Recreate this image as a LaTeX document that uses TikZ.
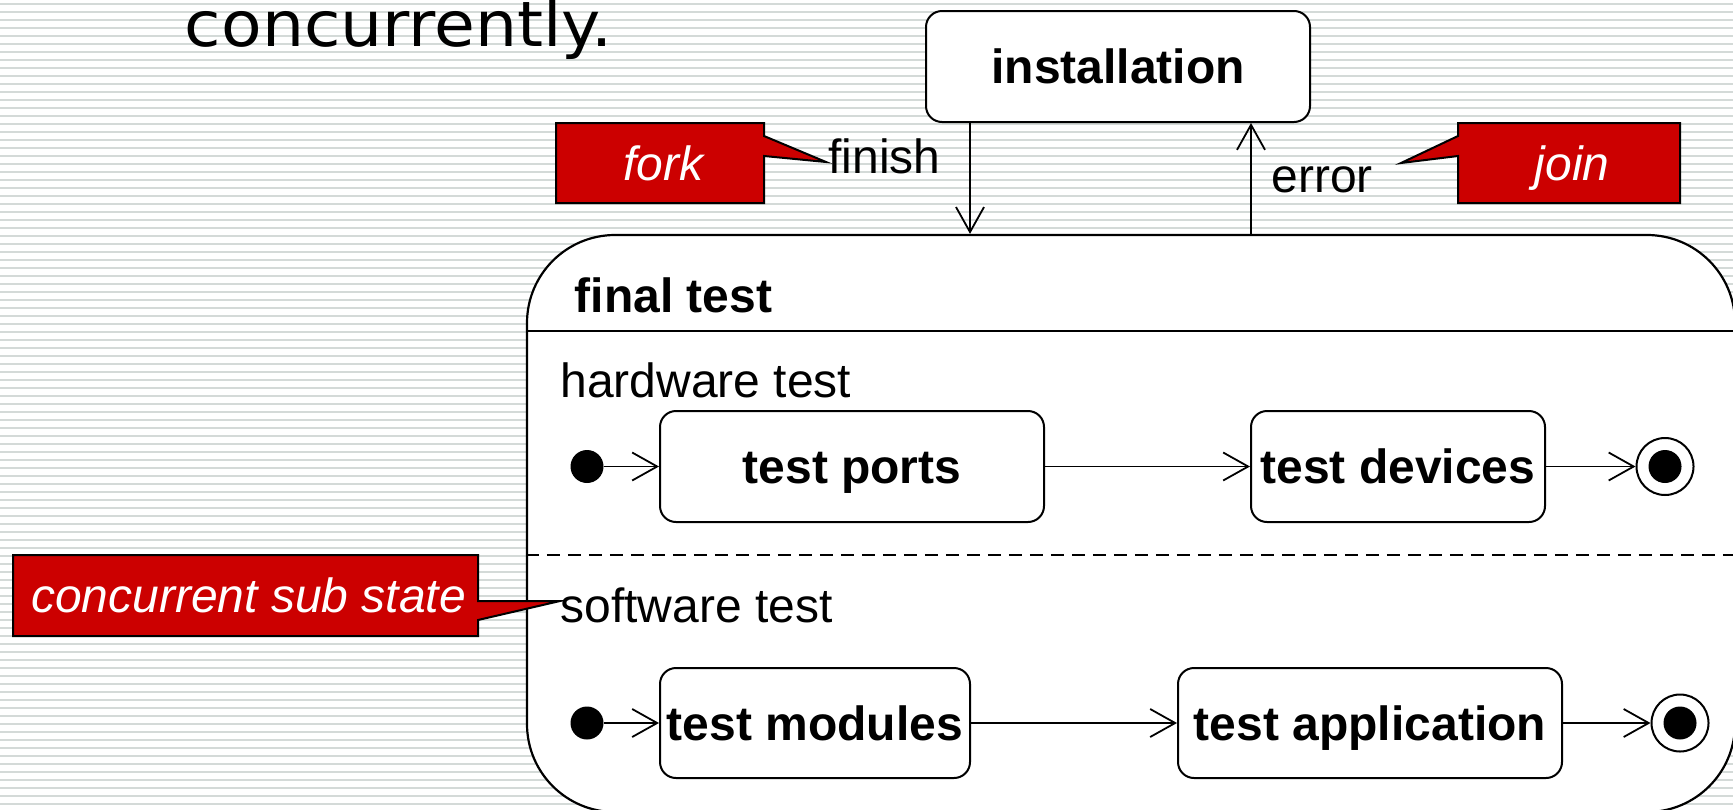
\documentclass[tikz,border=0pt]{standalone}
\usepackage{fontspec}
\setmainfont{Liberation Sans}
\newfontfamily\headfont[FakeStretch=1.06]{DejaVu Sans}
\usetikzlibrary{arrows.meta}
\definecolor{stripegray}{RGB}{212,218,216}
\definecolor{noteRed}{RGB}{204,0,0}
\begin{document}
\begin{tikzpicture}[x=0.5pt,y=-0.5pt,
  lbl/.style={inner sep=0pt,font=\fontsize{24}{28}\selectfont},
  stripe/.style={draw=stripegray,line width=0.8pt},
  statebox/.style={draw,line width=1pt,rounded corners=8pt,fill=white,
    inner sep=0pt,text height=17.3pt,text depth=0pt,
    font=\fontsize{24}{28}\selectfont\bfseries},
  superstate/.style={draw,line width=1.1pt,rounded corners=44pt,fill=white,inner sep=0pt},
  arr/.style={line width=0.9pt,-{Straight Barb[length=12.5pt,width=14pt,line width=0.9pt]}},
  initdot/.style={circle,fill=black,minimum size=16.5pt,inner sep=0pt},
  finring/.style={circle,draw,line width=1pt,fill=white,minimum size=28.5pt,inner sep=0pt},
  callout/.style={fill=noteRed,draw=black,line width=1pt,line join=miter},
  notetext/.style={inner sep=0pt,text=white,text height=17.3pt,text depth=0pt,
    font=\fontsize{24}{28}\selectfont\itshape}]

% page area and striped background
\useasboundingbox (0,0) rectangle (1733,809);
\clip (0,0) rectangle (1733,809);
\fill[white] (0,0) rectangle (1733,809);
\foreach \k in {0,...,100} \draw[stripe] (0,4+8*\k) -- (1733,4+8*\k);

% heading fragment
\node[anchor=base west,inner sep=0pt,font=\headfont\fontsize{31.3}{36}\selectfont] (title) at (184.5,46.7) {concurrently.};

% composite state with two concurrent regions
\node[superstate,minimum width=604pt,minimum height=288.5pt] (final) at (1131,523.5) {};
\coordinate (sepname) at (0,331);
\coordinate (sepregion) at (0,555);
\draw[line width=1pt] (final.west |- sepname) -- (final.east |- sepname);
\draw[line width=0.9pt,dash pattern=on 6.5pt off 4pt] (final.west |- sepregion) -- (final.east |- sepregion);
\node[lbl,anchor=base west,font=\fontsize{24}{28}\selectfont\bfseries] (ftlabel) at (574.5,312) {final test};
\node[lbl,anchor=base west] (hwlabel) at (560,397) {hardware test};
\node[lbl,anchor=base west] (swlabel) at (560,622) {software test};

% outer state
\node[statebox,minimum width=192pt,minimum height=55.5pt] (inst) at (1118,66.5) {installation};

% hardware region
\node[initdot] (hinit) at (587,466.5) {};
\node[statebox,minimum width=192pt,minimum height=55.5pt] (ports) at (852,466.5) {test ports};
\node[statebox,minimum width=147pt,minimum height=55.5pt] (devices) at (1398,466.5) {test devices};
\node[finring] (hfinal) at (1665,466.5) {};
\node[initdot] (hfinaldot) at (hfinal) {};
\draw[arr] (hinit) -- (ports);
\draw[arr] (ports) -- (devices);
\draw[arr] (devices) -- (hfinal);

% software region
\node[initdot] (sinit) at (587,723) {};
\node[statebox,minimum width=155pt,minimum height=55pt] (modules) at (815,723) {test modules};
\node[statebox,minimum width=192pt,minimum height=55pt] (application) at (1370,723) {test application};
\node[finring] (sfinal) at (1680,723) {};
\node[initdot] (sfinaldot) at (sfinal) {};
\draw[arr] (sinit) -- (modules);
\draw[arr] (modules) -- (application);
\draw[arr] (application) -- (sfinal);

% fork and join transitions
\coordinate (finx) at (970,0);
\coordinate (errx) at (1251,0);
\draw[arr] (inst.south -| finx) -- (final.north -| finx);
\draw[arr] (final.north -| errx) -- (inst.south -| errx);
\node[lbl,anchor=base west] (finish) at (828,173) {finish};
\node[lbl,anchor=base west] (error) at (1271,192) {error};

% annotations
\path[callout] (556,123) -- (764,123) -- (764,136) -- (826,162) -- (764,156) -- (764,203) -- (556,203) -- cycle;
\node[notetext] (forknote) at (663,163) {fork};
\path[callout] (1458,123) -- (1680,123) -- (1680,203) -- (1458,203) -- (1458,156) -- (1401,163) -- (1458,136) -- cycle;
\node[notetext] (joinnote) at (1572,163) {join};
\path[callout] (13,555) -- (478,555) -- (478,601) -- (560,601) -- (478,620) -- (478,636) -- (13,636) -- cycle;
\node[notetext] (concnote) at (248.5,595.5) {concurrent sub state};
\end{tikzpicture}
\end{document}
